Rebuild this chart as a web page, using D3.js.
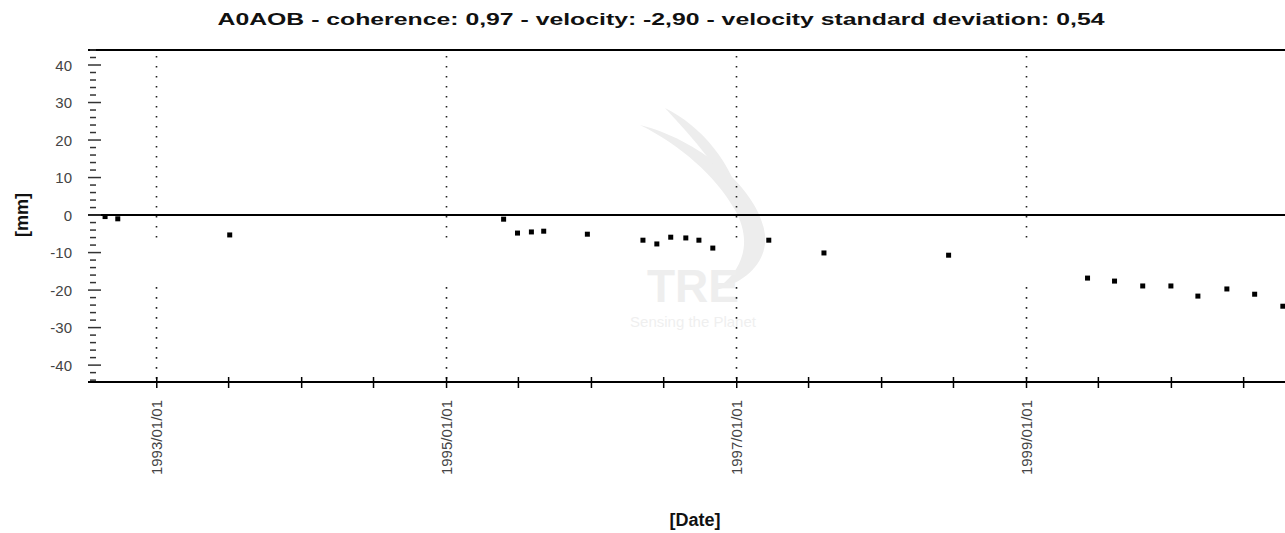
<!DOCTYPE html>
<html>
<head>
<meta charset="utf-8">
<script src="https://cdn.jsdelivr.net/npm/d3@7"></script>
<style>
  html, body { margin: 0; padding: 0; background: #fff; }
  svg { display: block; font-family: "Liberation Sans", Arial, sans-serif; }
</style>
</head>
<body>
<div id="chart"></div>
<script>
(function () {
  'use strict';

  // Acquisition dates and displacement [mm] for point A0AOB
  const DATES = [
    '1992-08-25', '1992-09-26', '1993-07-05',
    '1995-05-26', '1995-06-30', '1995-08-04', '1995-09-04', '1995-12-23',
    '1996-05-11', '1996-06-15', '1996-07-20', '1996-08-27', '1996-09-29', '1996-11-03',
    '1997-03-24', '1997-08-10', '1998-06-20',
    '1999-06-05', '1999-08-12', '1999-10-22', '2000-01-01',
    '2000-03-09', '2000-05-21', '2000-07-30', '2000-10-09'
  ];
  const DISPLACEMENT = [
    -0.4, -1.0, -5.3,
    -1.1, -4.8, -4.5, -4.3, -5.1,
    -6.7, -7.7, -5.9, -6.1, -6.7, -8.8,
    -6.7, -10.1, -10.7,
    -16.8, -17.6, -18.9, -18.9,
    -21.6, -19.7, -21.1, -24.3
  ];

  const Y_TICKS = [-40, -30, -20, -10, 0, 10, 20, 30, 40];
  const Y_MINOR = d3.range(-44, 45, 2);
  const X_LABEL_DATES = ['1993-01-01', '1995-01-01', '1997-01-01', '1999-01-01'];
  const X_DOMAIN = ['1992-07-13', '2000-10-22'];
  const Y_DOMAIN = [-44.5, 44];
  const GRID_GAP = [-8, -19.2];   // gridlines are broken behind the watermark text

  const TITLE = 'A0AOB - coherence: 0,97 - velocity: -2,90 - velocity standard deviation: 0,54';

  const width = 1285, height = 533;
  const plot = { left: 88, right: 1288, top: 50, bottom: 382 };
  const parse = d3.utcParse('%Y-%m-%d');
  const fmt = d3.utcFormat('%Y/%m/%d');

  const x = d3.scaleUtc().domain(X_DOMAIN.map(parse)).range([plot.left, plot.right]);
  const y = d3.scaleLinear().domain(Y_DOMAIN).range([plot.bottom, plot.top]);

  const svg = d3.select('#chart').append('svg')
    .attr('width', width).attr('height', height);

  // Watermark (faint logo)
  const wm = svg.append('g').attr('fill', '#ededed');
  wm.append('path')
    .attr('d', 'M640,125 C700,140 760,190 765,235 C768,265 740,285 715,290 C745,270 752,240 735,210 C715,175 680,145 640,125 Z');
  wm.append('path')
    .attr('d', 'M665,108 C700,125 735,165 740,205 C720,170 695,140 665,108 Z');
  wm.append('text').attr('x', 693).attr('y', 302)
    .attr('text-anchor', 'middle').attr('font-size', 46).attr('font-weight', 700)
    .attr('fill', '#eeeeee').text('TRE');
  wm.append('text').attr('x', 693).attr('y', 327)
    .attr('text-anchor', 'middle').attr('font-size', 15)
    .attr('fill', '#efefef').text('Sensing the Planet');

  // Title
  svg.append('text')
    .attr('x', 661).attr('y', 25)
    .attr('text-anchor', 'middle')
    .attr('font-size', 17).attr('font-weight', 700)
    .attr('textLength', 887).attr('lengthAdjust', 'spacingAndGlyphs')
    .attr('fill', '#111')
    .text(TITLE);

  // Vertical dotted gridlines at labelled dates
  const grid = svg.append('g')
    .attr('stroke', '#222').attr('stroke-width', 1.6)
    .attr('stroke-dasharray', '1.6,8.4');
  X_LABEL_DATES.map(parse).forEach(d => {
    const gx = Math.round(x(d)) + 0.5;
    grid.append('line').attr('x1', gx).attr('x2', gx)
      .attr('y1', y(Y_DOMAIN[1]) + 6).attr('y2', y(GRID_GAP[0]));
    grid.append('line').attr('x1', gx).attr('x2', gx)
      .attr('y1', y(GRID_GAP[1])).attr('y2', y(Y_DOMAIN[0]));
  });

  // Frame lines: top, zero line and bottom axis
  const frame = svg.append('g').attr('stroke', '#000').attr('stroke-width', 2);
  [Y_DOMAIN[1], 0, Y_DOMAIN[0]].forEach(v => {
    frame.append('line')
      .attr('x1', plot.left).attr('x2', plot.right)
      .attr('y1', y(v)).attr('y2', y(v));
  });

  // Y axis: minor / major dashes on the left edge, no axis line
  const yTicks = svg.append('g').attr('stroke', '#333').attr('stroke-width', 1.5);
  Y_MINOR.forEach(v => {
    if (Y_TICKS.includes(v)) return;
    yTicks.append('line').attr('x1', plot.left + 2).attr('x2', plot.left + 8)
      .attr('y1', y(v)).attr('y2', y(v));
  });
  Y_TICKS.forEach(v => {
    yTicks.append('line').attr('x1', plot.left).attr('x2', plot.left + 13)
      .attr('y1', y(v)).attr('y2', y(v));
  });
  svg.append('g')
    .selectAll('text').data(Y_TICKS).join('text')
    .attr('x', 72).attr('y', d => y(d) + 5.5)
    .attr('text-anchor', 'end')
    .attr('font-size', 15).attr('fill', '#444')
    .text(d => d);

  // X axis: ticks every six months, crossing the bottom line
  const xAxis = d3.axisBottom(x)
    .ticks(d3.utcMonth.every(6))
    .tickSize(0)
    .tickFormat('');
  const xg = svg.append('g').attr('transform', `translate(0,${plot.bottom})`).call(xAxis);
  xg.select('.domain').remove();
  xg.selectAll('.tick line').remove();
  xg.selectAll('.tick').append('line')
    .attr('y1', -5).attr('y2', 6)
    .attr('stroke', '#000').attr('stroke-width', 1.5);

  // Rotated date labels
  svg.append('g')
    .selectAll('text').data(X_LABEL_DATES.map(parse)).join('text')
    .attr('transform', d => `translate(${x(d) + 6},400) rotate(-90)`)
    .attr('text-anchor', 'end')
    .attr('font-size', 15).attr('fill', '#444')
    .text(d => fmt(d));

  // Axis titles
  svg.append('text')
    .attr('transform', `translate(28,${y(0)}) rotate(-90)`)
    .attr('text-anchor', 'middle')
    .attr('font-size', 18).attr('font-weight', 700).attr('fill', '#111')
    .text('[mm]');
  svg.append('text')
    .attr('x', 695).attr('y', 526)
    .attr('text-anchor', 'middle')
    .attr('font-size', 18).attr('font-weight', 700).attr('fill', '#111')
    .text('[Date]');

  // Data points
  const pts = DATES.map((d, i) => ({ date: parse(d), value: DISPLACEMENT[i] }));
  svg.append('g')
    .selectAll('rect').data(pts).join('rect')
    .attr('x', d => x(d.date) - 2.5)
    .attr('y', d => y(d.value) - 2.5)
    .attr('width', 5).attr('height', 5)
    .attr('fill', '#000');
})();
</script>
</body>
</html>
